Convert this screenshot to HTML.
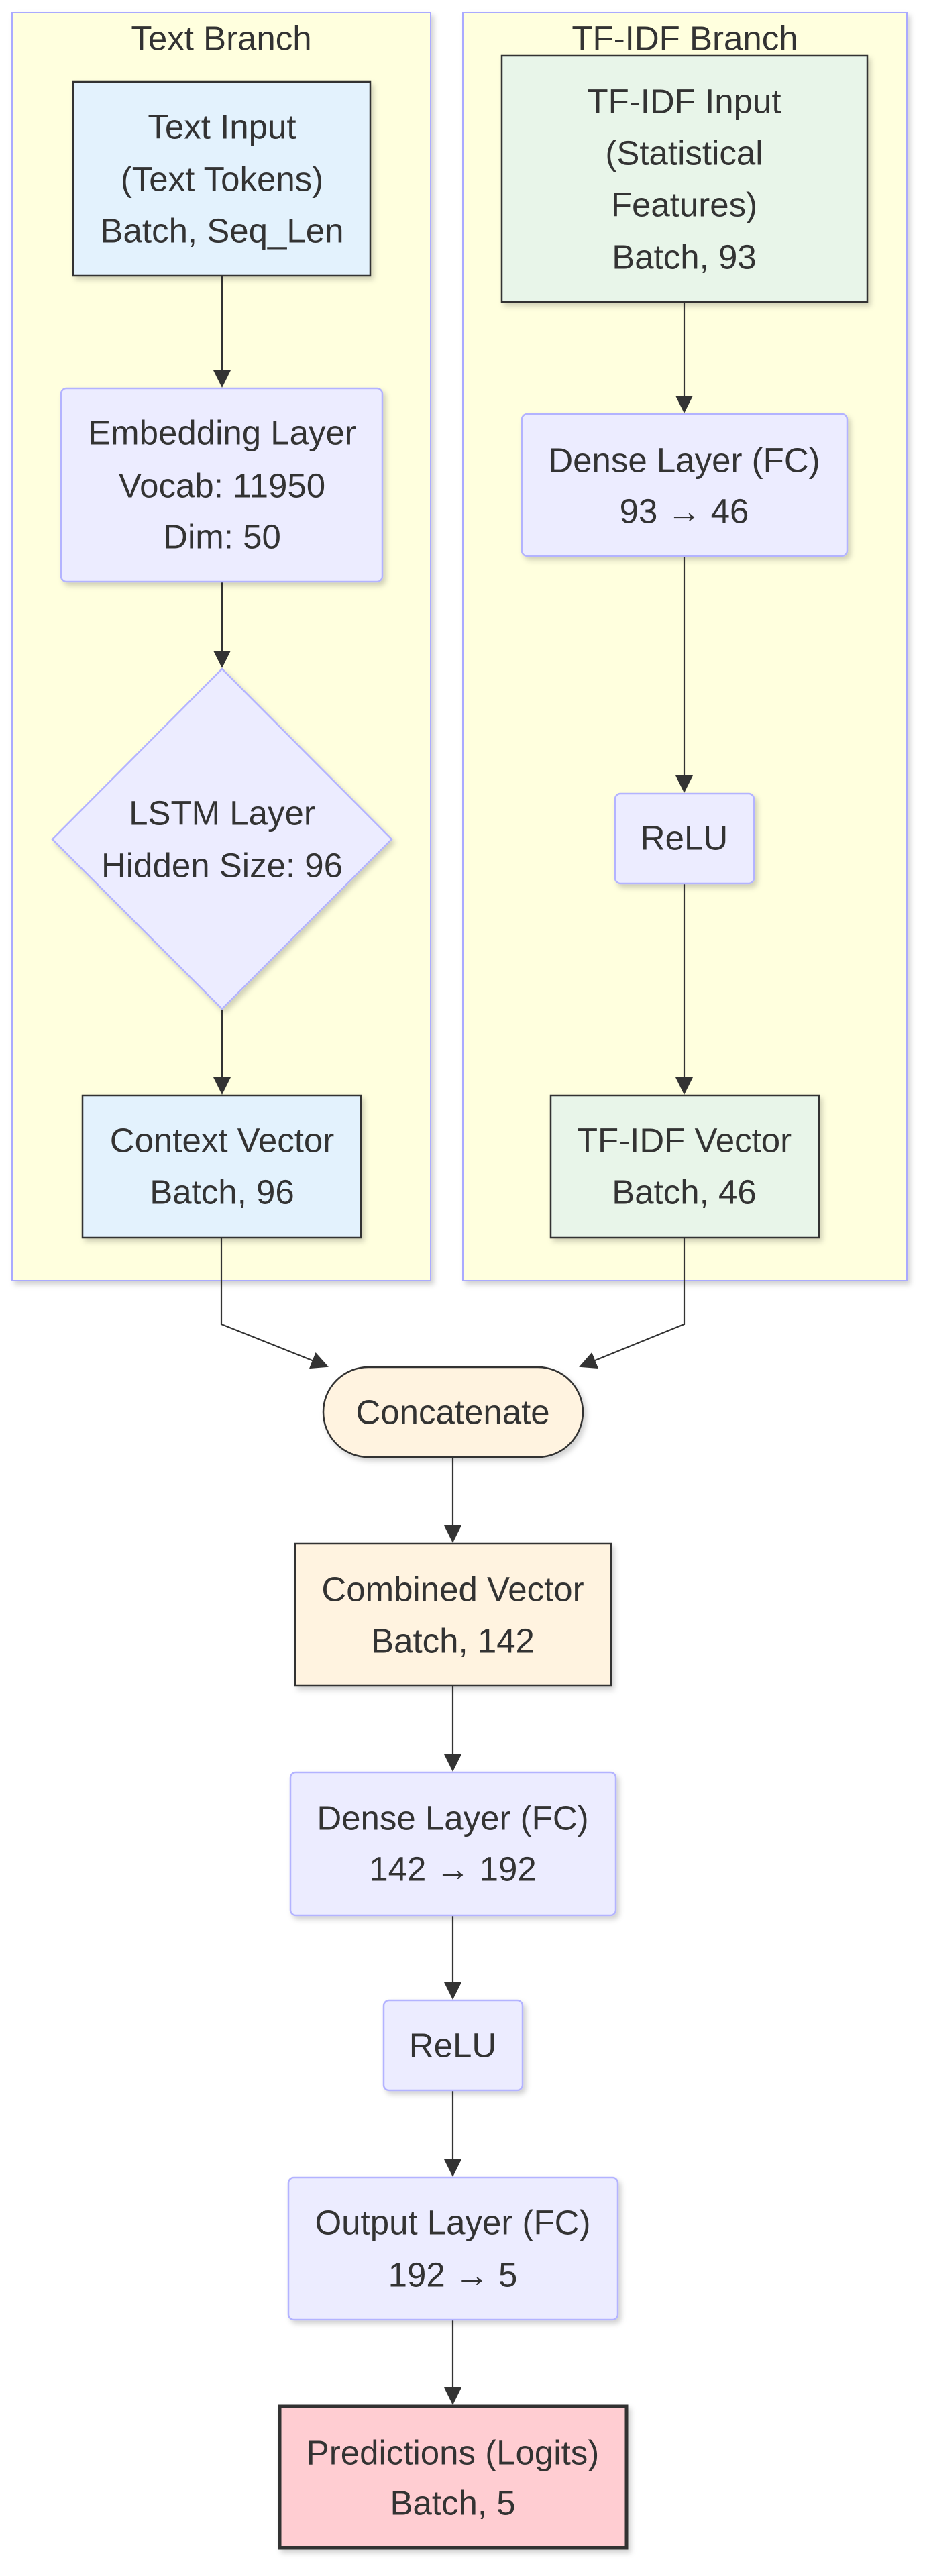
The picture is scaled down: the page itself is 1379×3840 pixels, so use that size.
<!DOCTYPE html>
<html><head><meta charset="utf-8"><style>
html,body{margin:0;padding:0;background:#fff;}
svg{display:block;}
text{font-family:"Liberation Sans",Arial,sans-serif;font-size:51px;fill:#333;text-anchor:middle;dominant-baseline:central;}
</style></head><body>
<svg width="1379" height="3840" viewBox="0 0 1379 3840" xmlns="http://www.w3.org/2000/svg">
<defs>
<filter id="sh" x="-10%" y="-10%" width="130%" height="130%"><feDropShadow dx="4" dy="5" stdDeviation="4" flood-color="#000" flood-opacity="0.18"/></filter>
<marker id="ah" markerWidth="26" markerHeight="26" refX="24" refY="13" orient="auto" markerUnits="userSpaceOnUse"><path d="M0,0 L26,13 L0,26 z" fill="#333"/></marker>
</defs>
<rect x="18" y="19" width="624" height="1890" fill="#ffffde" stroke="#aaaaff" stroke-width="2" filter="url(#sh)"/>
<rect x="690" y="19" width="662" height="1890" fill="#ffffde" stroke="#aaaaff" stroke-width="2" filter="url(#sh)"/>
<text x="330" y="57">Text Branch</text>
<text x="1021" y="57">TF-IDF Branch</text>

<g stroke="#333" stroke-width="2.2" fill="none" marker-end="url(#ah)">
<line x1="331" y1="411" x2="331" y2="576"/>
<line x1="331" y1="867" x2="331" y2="994"/>
<line x1="331" y1="1504" x2="331" y2="1630"/>
<line x1="1020" y1="450" x2="1020" y2="614"/>
<line x1="1020" y1="829" x2="1020" y2="1180"/>
<line x1="1020" y1="1317" x2="1020" y2="1630"/>
<polyline points="330,1845 330,1974 488,2037"/>
<polyline points="1020,1845 1020,1974 865,2037"/>
<line x1="675" y1="2172" x2="675" y2="2298"/>
<line x1="675" y1="2513" x2="675" y2="2639"/>
<line x1="675" y1="2855" x2="675" y2="2979"/>
<line x1="675" y1="3116" x2="675" y2="3243"/>
<line x1="675" y1="3458" x2="675" y2="3583"/>
</g>

<rect x="109" y="122" width="443" height="289" fill="#e3f2fd" stroke="#333" stroke-width="2.5" filter="url(#sh)"/>
<text x="331" y="189">Text Input</text><text x="331" y="267">(Text Tokens)</text><text x="331" y="344">Batch, Seq_Len</text>

<rect x="91" y="579" width="479" height="288" rx="8" fill="#ececff" stroke="#b3b3ff" stroke-width="2.5" filter="url(#sh)"/>
<text x="331" y="645">Embedding Layer</text><text x="331" y="724">Vocab: 11950</text><text x="331" y="800">Dim: 50</text>

<polygon points="331,997 584,1251 331,1504 78,1251" fill="#ececff" stroke="#b3b3ff" stroke-width="2.5" filter="url(#sh)"/>
<text x="331" y="1212">LSTM Layer</text><text x="331" y="1290">Hidden Size: 96</text>

<rect x="123" y="1633" width="415" height="212" fill="#e3f2fd" stroke="#333" stroke-width="2.5" filter="url(#sh)"/>
<text x="331" y="1700">Context Vector</text><text x="331" y="1777">Batch, 96</text>

<rect x="748" y="83" width="545" height="367" fill="#e8f5e9" stroke="#333" stroke-width="2.5" filter="url(#sh)"/>
<text x="1020" y="151">TF-IDF Input</text><text x="1020" y="228">(Statistical</text><text x="1020" y="305">Features)</text><text x="1020" y="383">Batch, 93</text>

<rect x="778" y="617" width="485" height="212" rx="8" fill="#ececff" stroke="#b3b3ff" stroke-width="2.5" filter="url(#sh)"/>
<text x="1020" y="686">Dense Layer (FC)</text><text x="1020" y="762">93 → 46</text>

<rect x="917" y="1183" width="207" height="134" rx="8" fill="#ececff" stroke="#b3b3ff" stroke-width="2.5" filter="url(#sh)"/>
<text x="1020" y="1249">ReLU</text>

<rect x="821" y="1633" width="400" height="212" fill="#e8f5e9" stroke="#333" stroke-width="2.5" filter="url(#sh)"/>
<text x="1020" y="1700">TF-IDF Vector</text><text x="1020" y="1777">Batch, 46</text>

<rect x="482" y="2038" width="387" height="134" rx="67" fill="#fff3e0" stroke="#333" stroke-width="2.5" filter="url(#sh)"/>
<text x="675" y="2105">Concatenate</text>

<rect x="440" y="2301" width="471" height="212" fill="#fff3e0" stroke="#333" stroke-width="2.5" filter="url(#sh)"/>
<text x="675" y="2369">Combined Vector</text><text x="675" y="2446">Batch, 142</text>

<rect x="433" y="2642" width="485" height="213" rx="8" fill="#ececff" stroke="#b3b3ff" stroke-width="2.5" filter="url(#sh)"/>
<text x="675" y="2710">Dense Layer (FC)</text><text x="675" y="2786">142 → 192</text>

<rect x="572" y="2982" width="207" height="134" rx="8" fill="#ececff" stroke="#b3b3ff" stroke-width="2.5" filter="url(#sh)"/>
<text x="675" y="3049">ReLU</text>

<rect x="430" y="3246" width="491" height="212" rx="8" fill="#ececff" stroke="#b3b3ff" stroke-width="2.5" filter="url(#sh)"/>
<text x="675" y="3313">Output Layer (FC)</text><text x="675" y="3391">192 → 5</text>

<rect x="417" y="3587" width="517" height="211" fill="#ffcdd2" stroke="#333" stroke-width="5" filter="url(#sh)"/>
<text x="675" y="3656">Predictions (Logits)</text><text x="675" y="3731">Batch, 5</text>
</svg>
</body></html>
